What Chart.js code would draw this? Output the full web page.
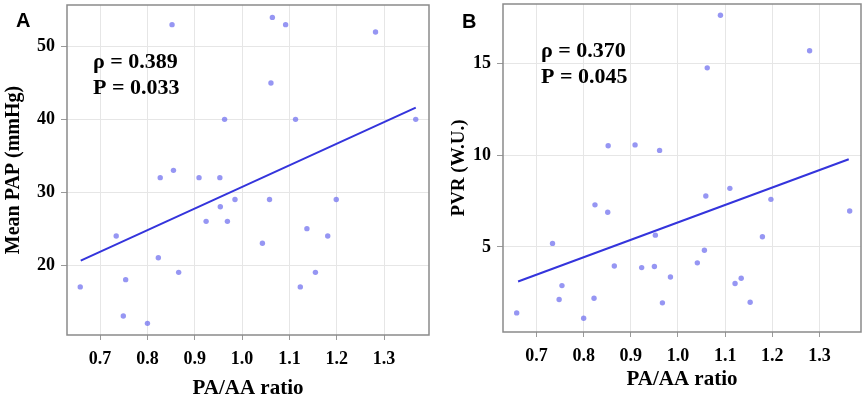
<!DOCTYPE html>
<html>
<head>
<meta charset="utf-8">
<script src="https://cdn.jsdelivr.net/npm/chart.js@4/dist/chart.umd.min.js"></script>
<style>
  html, body { margin: 0; padding: 0; background: #ffffff; }
  #wrap { position: relative; width: 867px; height: 396px; overflow: hidden; }
  .panel { position: absolute; top: 0; }
  .tag { position: absolute; font-family: "Liberation Sans", Arial, sans-serif; font-weight: bold; font-size: 20px; color: #000; line-height: 1; }
</style>
</head>
<body>
<div id="wrap">
  <div class="panel" style="left:0; width:433px; height:396px;"><canvas id="cA" width="433" height="396"></canvas></div>
  <div class="panel" style="left:433px; width:434px; height:396px;"><canvas id="cB" width="434" height="396"></canvas></div>
  <div class="tag" style="left:16px; top:10px;">A</div>
  <div class="tag" style="left:462px; top:11px;">B</div>
</div>
<script>
// ---------- data ----------
const xTicks = [0.7, 0.8, 0.9, 1.0, 1.1, 1.2, 1.3];
const yTicksA = [20, 30, 40, 50];
const yTicksB = [5, 10, 15];

const ratioA = [0.852, 1.064, 1.092, 1.282, 1.061, 0.963, 1.113, 1.367, 0.827, 0.855,
                0.909, 0.953, 0.985, 1.058, 1.199, 0.954, 0.924, 0.969, 1.137, 0.734,
                1.181, 1.043, 0.823, 0.866, 1.155, 0.754, 0.658, 1.123, 0.749, 0.800];
const mpap   = [53, 54, 53, 52, 45, 40, 40, 40, 32, 33,
                32, 32, 29, 29, 29, 28, 26, 26, 25, 24,
                24, 23, 21, 19, 19, 18, 17, 17, 13, 12];

const ratioB = [1.090, 1.279, 1.062, 0.852, 0.909, 0.961, 1.110, 1.059, 1.197, 0.824,
                0.851, 1.364, 0.734, 1.179, 0.952, 1.056, 1.041, 0.865, 0.923, 0.950,
                0.984, 1.134, 1.121, 0.754, 0.748, 0.822, 0.967, 1.153, 0.658, 0.800];
const pvr    = [17.63, 15.69, 14.76, 10.51, 10.56, 10.26, 8.19, 7.77, 7.59, 7.29,
                6.89, 6.96, 5.19, 5.55, 5.64, 4.82, 4.13, 3.96, 3.87, 3.93,
                3.36, 3.29, 3.00, 2.89, 2.13, 2.20, 1.95, 1.98, 1.40, 1.11];

const fitAX = [0.659, 1.367];
const fitAY = [20.6, 41.6];
const fitBX = [0.661, 1.362];
const fitBY = [3.11, 9.78];

const statsA = ["ρ = 0.389", "P = 0.033"];
const statsB = ["ρ = 0.370", "P = 0.045"];

// ---------- styles ----------
const SERIF = '"Liberation Serif", "Times New Roman", serif';
const POINT_COLOR = 'rgba(110,110,238,0.72)';
const LINE_COLOR = '#3434dc';
const GRID_COLOR = '#e6e6e6';
const TICK_COLOR = '#9a9a9a';
const BORDER_COLOR = '#8a8a8a';

function pts(xs, ys) { return xs.map((x, i) => ({ x: x, y: ys[i] })); }

const frame = {
  id: 'frame',
  afterDraw(chart) {
    const { ctx, chartArea: a } = chart;
    ctx.save();
    ctx.strokeStyle = BORDER_COLOR;
    ctx.lineWidth = 1.5;
    ctx.strokeRect(a.left, a.top, a.right - a.left, a.bottom - a.top);
    ctx.restore();
  }
};

function statsPlugin(lines, dx, dy, gap) {
  return {
    id: 'stats',
    afterDatasetsDraw(chart) {
      const { ctx, chartArea: a } = chart;
      ctx.save();
      ctx.fillStyle = '#000';
      ctx.font = 'bold 22px ' + SERIF;
      ctx.textBaseline = 'alphabetic';
      ctx.textAlign = 'left';
      lines.forEach((t, i) => ctx.fillText(t, a.left + dx, a.top + dy + i * gap));
      ctx.restore();
    }
  };
}

function makeChart(id, cfg) {
  return new Chart(document.getElementById(id), {
    type: 'scatter',
    data: {
      datasets: [
        {
          type: 'line',
          data: pts(cfg.fitX, cfg.fitY),
          borderColor: LINE_COLOR,
          borderWidth: 2,
          pointRadius: 0,
          fill: false,
          order: 1
        },
        {
          data: pts(cfg.xs, cfg.ys),
          backgroundColor: POINT_COLOR,
          borderWidth: 0,
          pointRadius: 2.7,
          order: 2
        }
      ]
    },
    options: {
      responsive: false,
      animation: false,
      events: [],
      layout: { padding: cfg.pad },
      plugins: { legend: { display: false }, tooltip: { enabled: false } },
      scales: {
        x: {
          type: 'linear',
          min: cfg.xMin, max: cfg.xMax,
          afterBuildTicks: s => { s.ticks = xTicks.map(v => ({ value: v })); },
          afterFit: s => { s.height = cfg.xH; s.paddingLeft = 0; s.paddingRight = 0; },
          border: { display: false },
          grid: { color: GRID_COLOR, tickColor: TICK_COLOR, tickLength: 5, lineWidth: 1 },
          ticks: {
            color: '#000', padding: 9,
            font: { family: SERIF, size: 18, weight: 'bold' },
            maxRotation: 0,
            callback: v => Number(v).toFixed(1)
          },
          title: {
            display: true, text: 'PA/AA ratio', color: '#000',
            font: { family: SERIF, size: 21, weight: 'bold', lineHeight: 1 },
            padding: { top: 0, bottom: cfg.xTitlePad }
          }
        },
        y: {
          type: 'linear',
          min: cfg.yMin, max: cfg.yMax,
          afterBuildTicks: s => { s.ticks = cfg.yTicks.map(v => ({ value: v })); },
          afterFit: s => { s.width = cfg.yW; s.paddingTop = 0; s.paddingBottom = 0; },
          border: { display: false },
          grid: { color: GRID_COLOR, tickColor: TICK_COLOR, tickLength: 6, lineWidth: 1 },
          ticks: {
            color: '#000', padding: 6,
            font: { family: SERIF, size: 18, weight: 'bold' }
          },
          title: {
            display: true, text: cfg.yTitle, color: '#000',
            font: { family: SERIF, size: cfg.yTitleSize, weight: 'bold', lineHeight: 1 },
            padding: { top: cfg.yTitlePad, bottom: 0 }
          }
        }
      }
    },
    plugins: [frame, statsPlugin(cfg.stats, cfg.sdx, cfg.sdy, 26)]
  });
}

makeChart('cA', {
  xs: ratioA, ys: mpap, fitX: fitAX, fitY: fitAY,
  xMin: 0.630, xMax: 1.395, yMin: 10.4, yMax: 55.7,
  yTicks: yTicksA, yTitle: 'Mean PAP (mmHg)', yTitleSize: 20, yTitlePad: 3.5,
  pad: { top: 5, right: 4, left: 0, bottom: 0 },
  xH: 61, yW: 67, xTitlePad: -3,
  stats: statsA, sdx: 26, sdy: 63
});

makeChart('cB', {
  xs: ratioB, ys: pvr, fitX: fitBX, fitY: fitBY,
  xMin: 0.629, xMax: 1.388, yMin: 0.36, yMax: 18.24,
  yTicks: yTicksB, yTitle: 'PVR (W.U.)', yTitleSize: 19, yTitlePad: 16.5,
  pad: { top: 4, right: 6, left: 0, bottom: 0 },
  xH: 64, yW: 70, xTitlePad: 6,
  stats: statsB, sdx: 38, sdy: 53
});
</script>
</body>
</html>
